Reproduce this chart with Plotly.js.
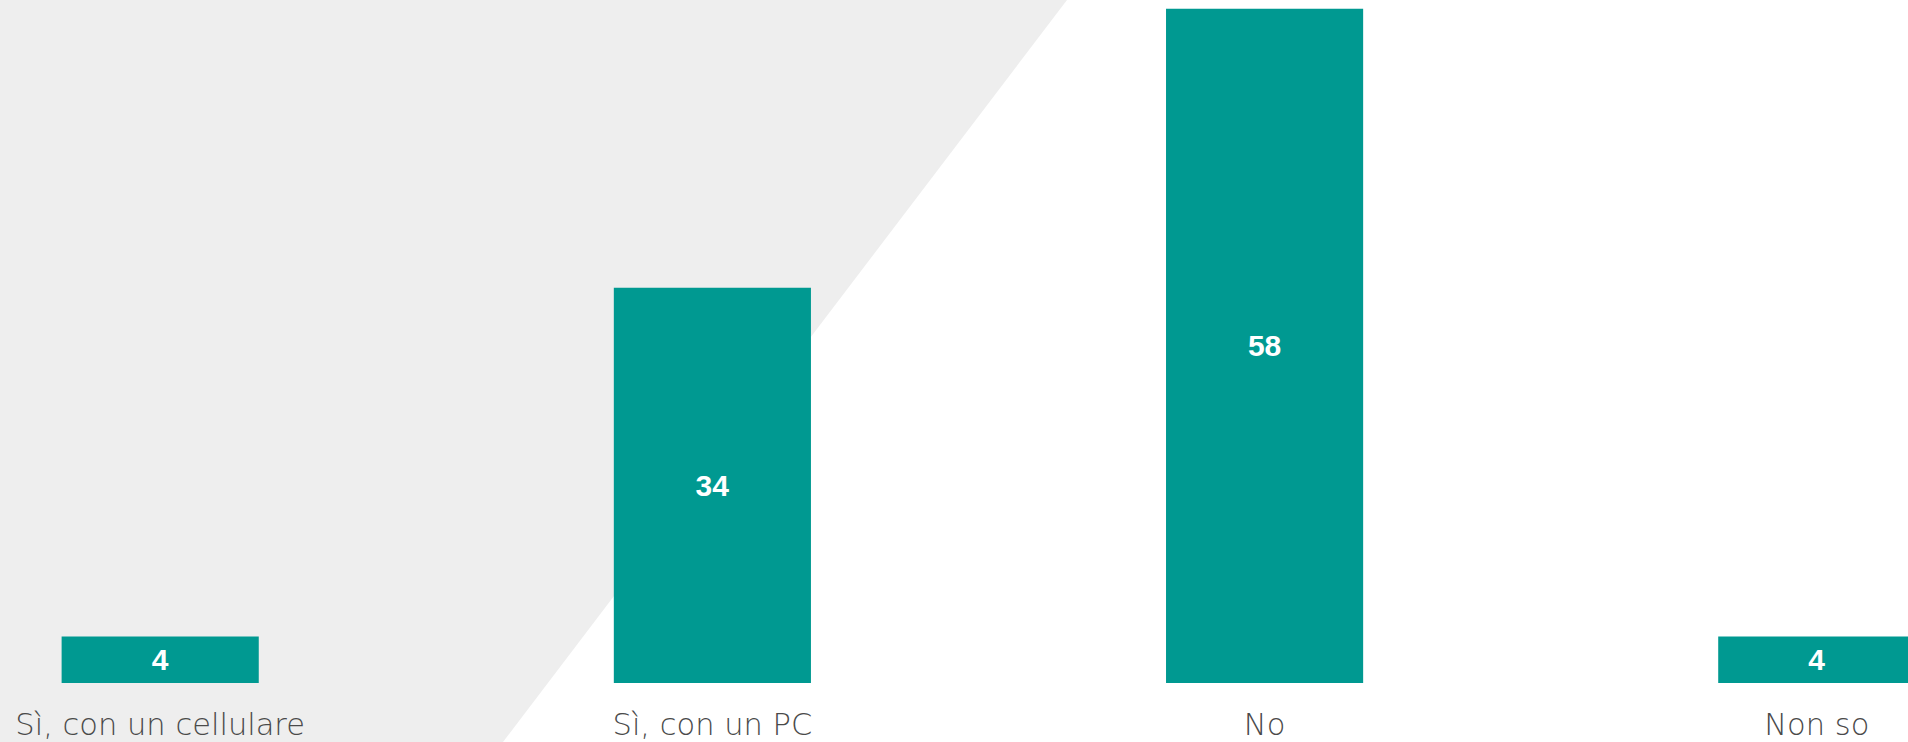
<!DOCTYPE html>
<html>
<head>
<meta charset="utf-8">
<script src="https://cdn.plot.ly/plotly-3.0.1.min.js"></script>
<style>html,body{margin:0;padding:0;background:#fff;}#chart{width:1908px;height:742px;}</style>
</head>
<body>
<div id="chart"></div>
<script>
const categories = ["Sì, con un cellulare", "Sì, con un PC", "No", "Non so"];
const values = [4, 34, 58, 4];
const valueLabels = ["4", "34", "58", "4"];

const W = 1908, H = 742, MB = 59;
const plotH = H - MB;
const trace = {
  type: 'bar',
  x: categories,
  y: values,
  text: valueLabels,
  textposition: 'inside',
  insidetextanchor: 'middle',
  constraintext: 'none',
  textfont: {family: 'Liberation Sans, Arial, sans-serif', size: 30, color: '#ffffff', weight: 'bold'},
  marker: {color: '#009991', line: {width: 0}},
  width: 0.357,
  hoverinfo: 'none'
};

const layout = {
  width: W, height: H,
  margin: {l: 0, r: 0, t: 0, b: MB, pad: 0},
  paper_bgcolor: '#ffffff',
  plot_bgcolor: 'rgba(0,0,0,0)',
  showlegend: false,
  xaxis: {
    type: 'category',
    range: [-0.2901, 3.1652],
    showgrid: false, zeroline: false, showline: false,
    ticks: '',
    ticklabelstandoff: 20,
    tickfont: {family: 'DejaVu Sans, sans-serif', size: 30.5, color: '#4a4a4a', weight: 300},
    fixedrange: true
  },
  yaxis: {
    range: [0, plotH / 11.626],
    showgrid: false, zeroline: false, showline: false,
    showticklabels: false, ticks: '',
    fixedrange: true
  },
  shapes: [{
    type: 'path', xref: 'paper', yref: 'paper', layer: 'below',
    path: 'M 0 1 L ' + (1067 / W) + ' 1 L ' + (503 / W) + ' ' + ((plotH - H) / plotH) + ' L 0 ' + ((plotH - H) / plotH) + ' Z',
    fillcolor: '#eeeeee', line: {width: 0}
  }]
};

Plotly.newPlot('chart', [trace], layout, {displayModeBar: false, staticPlot: true});
</script>
</body>
</html>
